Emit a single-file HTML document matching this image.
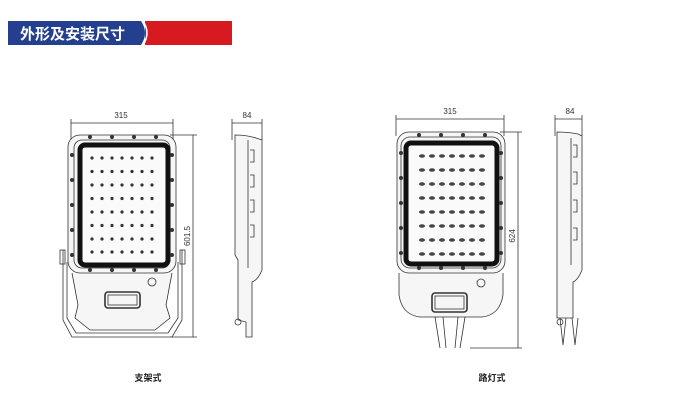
<!DOCTYPE html><html><head><meta charset="utf-8"><style>
body{margin:0;background:#fff;width:685px;height:402px;overflow:hidden;font-family:"Liberation Sans","Noto Sans CJK SC",sans-serif}
</style></head><body>
<svg width="685" height="402" viewBox="0 0 685 402" xmlns="http://www.w3.org/2000/svg" font-family="Liberation Sans, Noto Sans CJK SC, sans-serif">
<rect x="145" y="21" width="87" height="24" fill="#d71920"/>
<path d="M8 21H141Q149 33 141 45H8Z" fill="#233f8e"/>
<path d="M143 21Q151 33 143 45" stroke="#fff" stroke-width="1.5" fill="none"/>
<text x="20" y="39" font-size="15" font-weight="bold" fill="#fff">外形及安装尺寸</text>
<g fill="none" stroke="#333" stroke-width="0.8">
<!-- left front -->
<line x1="71" y1="123" x2="173" y2="123"/><line x1="71" y1="119" x2="71" y2="140"/><line x1="173" y1="119" x2="173" y2="140"/>
<line x1="170" y1="135" x2="197" y2="135"/><line x1="170" y1="337" x2="197" y2="337"/><line x1="193" y1="135" x2="193" y2="337"/>
<path d="M72 273L78 305L75 318L90 330H155L170 318L166 305L172 273" fill="#f6f6f6"/>
<rect x="68" y="135" width="108" height="138" rx="12" fill="#f6f6f6"/>
<rect x="74" y="140" width="96" height="128" rx="8"/>
<rect x="80" y="145" width="88" height="120" rx="5" stroke="#111" stroke-width="5" fill="#fafafa"/>
<path d="M63 250V320L72 337H172L182 320V250"/><path d="M67 262V318L76 333H168L178 318V262"/>
<rect x="60" y="250" width="5" height="14"/><rect x="180" y="250" width="5" height="14"/>
<rect x="105" y="292" width="35" height="16" rx="3" stroke-width="1.6"/><rect x="108" y="295" width="29" height="10"/>
<circle cx="152" cy="282" r="4"/>
<!-- left side -->
<line x1="232" y1="123" x2="262" y2="123"/><line x1="232" y1="119" x2="232" y2="140"/><line x1="262" y1="119" x2="262" y2="140"/>
<path d="M235 135Q246 135 256 138L262 140V270Q258 280 252 282V337H246V322L238 320V260L235 255Z" fill="#f6f6f6"/>
<path d="M248 140V268M250 150h4v12h-4M250 175h4v12h-4M250 200h4v12h-4M250 225h4v12h-4"/>
<circle cx="238" cy="322" r="3"/>
<!-- right front -->
<line x1="396" y1="119" x2="504" y2="119"/><line x1="396" y1="115" x2="396" y2="136"/><line x1="504" y1="115" x2="504" y2="136"/>
<line x1="500" y1="132" x2="522" y2="132"/><line x1="470" y1="348" x2="522" y2="348"/><line x1="518" y1="132" x2="518" y2="348"/>
<path d="M399 273V295Q402 315 420 317H482Q500 315 503 295V273" fill="#f6f6f6"/>
<rect x="397" y="132" width="108" height="141" rx="12" fill="#f6f6f6"/>
<rect x="401" y="137" width="100" height="131" rx="9"/>
<rect x="406" y="143" width="91" height="121" rx="5" stroke="#111" stroke-width="5" fill="#fafafa"/>
<rect x="432" y="293" width="35" height="19" rx="3" stroke-width="1.6"/><rect x="435" y="296" width="29" height="13"/>
<circle cx="481" cy="283" r="4"/>
<path d="M435 317L440 348M443 317L446 348M458 317L455 348M465 317L460 348"/>
<!-- right side -->
<line x1="555" y1="119" x2="582" y2="119"/><line x1="555" y1="115" x2="555" y2="136"/><line x1="582" y1="115" x2="582" y2="136"/>
<path d="M557 132Q568 132 578 134L582 136V270Q578 280 573 282V318H557V258Z" fill="#f6f6f6"/>
<path d="M571 138V265M573 145h4v12h-4M573 172h4v12h-4M573 200h4v12h-4M573 228h4v12h-4"/>
<path d="M560 318L563 345L566 318M572 318L575 345L578 318"/>
<circle cx="560" cy="322" r="3"/>
</g>
<g fill="#333">
<g id="b1">
<circle cx="90" cy="137" r="2"/><circle cx="112" cy="137" r="2"/><circle cx="134" cy="137" r="2"/><circle cx="156" cy="137" r="2"/>
<circle cx="90" cy="270" r="2"/><circle cx="112" cy="270" r="2"/><circle cx="134" cy="270" r="2"/><circle cx="156" cy="270" r="2"/>
<circle cx="72" cy="155" r="2"/><circle cx="72" cy="180" r="2"/><circle cx="72" cy="205" r="2"/><circle cx="72" cy="230" r="2"/><circle cx="72" cy="255" r="2"/>
<circle cx="172" cy="155" r="2"/><circle cx="172" cy="180" r="2"/><circle cx="172" cy="205" r="2"/><circle cx="172" cy="230" r="2"/><circle cx="172" cy="255" r="2"/>
</g>
<use href="#b1" x="329" y="-2"/>
<g id="g1">
<g id="r1"><circle cx="92" cy="158" r="1.6"/><circle cx="102" cy="158" r="1.6"/><circle cx="112" cy="158" r="1.6"/><circle cx="122" cy="158" r="1.6"/><circle cx="132" cy="158" r="1.6"/><circle cx="142" cy="158" r="1.6"/><circle cx="152" cy="158" r="1.6"/></g>
<use href="#r1" y="13.5"/><use href="#r1" y="27"/><use href="#r1" y="40.5"/><use href="#r1" y="54"/><use href="#r1" y="67.5"/><use href="#r1" y="81"/><use href="#r1" y="94"/>
</g>
</g>
<g fill="#444" transform="translate(330,-2)">
<g id="r2"><ellipse cx="92" cy="158" rx="3" ry="1.8"/><ellipse cx="102" cy="158" rx="3" ry="1.8"/><ellipse cx="112" cy="158" rx="3" ry="1.8"/><ellipse cx="122" cy="158" rx="3" ry="1.8"/><ellipse cx="132" cy="158" rx="3" ry="1.8"/><ellipse cx="142" cy="158" rx="3" ry="1.8"/><ellipse cx="152" cy="158" rx="3" ry="1.8"/></g>
<use href="#r2" y="14"/><use href="#r2" y="28"/><use href="#r2" y="42"/><use href="#r2" y="56"/><use href="#r2" y="70"/><use href="#r2" y="84"/><use href="#r2" y="98"/>
</g>
<g font-size="8" fill="#333">
<text x="121" y="118" text-anchor="middle">315</text>
<text x="247" y="118" text-anchor="middle">84</text>
<text x="450" y="114" text-anchor="middle">315</text>
<text x="570" y="114" text-anchor="middle">84</text>
<text transform="translate(190,236) rotate(-90)" text-anchor="middle">601.5</text>
<text transform="translate(515,236) rotate(-90)" text-anchor="middle">624</text>
</g>
<g font-size="9" font-weight="bold" fill="#222" text-anchor="middle">
<text x="148" y="381">支架式</text><text x="492" y="381">路灯式</text>
</g>
</svg>
</body></html>
